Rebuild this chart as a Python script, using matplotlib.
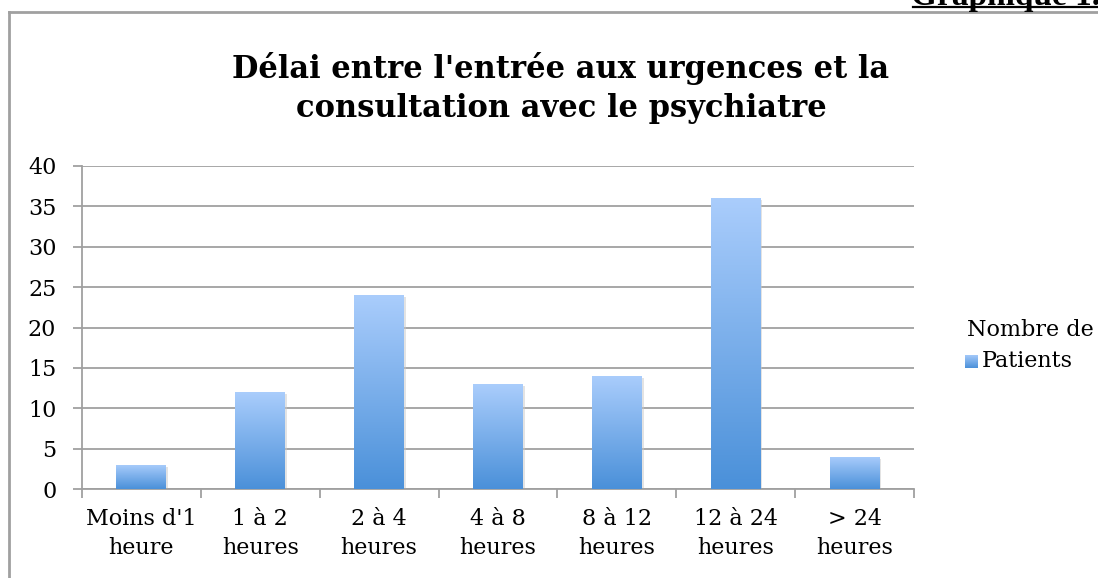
import matplotlib
matplotlib.use("Agg")
import matplotlib.pyplot as plt
import numpy as np
from matplotlib.patches import Rectangle
from matplotlib.colors import LinearSegmentedColormap
from matplotlib.lines import Line2D

categories = ["Moins d'1\nheure", "1 à 2\nheures", "2 à 4\nheures", "4 à 8\nheures",
              "8 à 12\nheures", "12 à 24\nheures", "> 24\nheures"]
patients = [3, 12, 24, 13, 14, 36, 4]
y_ticks = [0, 5, 10, 15, 20, 25, 30, 35, 40]

title = "Délai entre l'entrée aux urgences et la\nconsultation avec le psychiatre"
legend_title = "Nombre de"
legend_label = "Patients"

plt.rcParams['font.family'] = ['DejaVu Serif']
grey = '#a0a0a0'
grad = LinearSegmentedColormap.from_list('bars', ['#4a90d9', '#aacdfc'])
gradient = np.linspace(0, 1, 256).reshape(-1, 1)

fig = plt.figure(figsize=(10.98, 5.78), dpi=100)
W, H = 1098, 578

# outer frame of the chart (cut off on the right / bottom)
fig.add_artist(Line2D([9 / W, 9 / W], [-0.1, 1 - 12 / H], color=grey, lw=2, transform=fig.transFigure))
fig.add_artist(Line2D([9 / W, 1.1], [1 - 12 / H, 1 - 12 / H], color=grey, lw=2, transform=fig.transFigure))

# "Graphique 1." heading, mostly out of the picture
fig.text(1100 / W, 1 - 5 / H, "Graphique 1.", ha='right', va='baseline',
         fontsize=24, fontweight='bold', family='Liberation Serif')
fig.add_artist(Line2D([913 / W, 1.0], [1 - 7 / H, 1 - 7 / H], color='black', lw=1.6,
                      transform=fig.transFigure))

ax = fig.add_axes([82 / W, 1 - 489 / H, (914 - 82) / W, (489 - 166) / H])
x = np.arange(len(categories))
width = 0.42
bars = ax.bar(x, patients, width=width, color='none', zorder=3)
for b in bars:
    x0, y0, w, h = b.get_x(), b.get_y(), b.get_width(), b.get_height()
    # soft shadow
    ax.add_patch(Rectangle((x0 + 0.015, y0 - 0.25), w, h, color='#c8c8c8', alpha=0.5, zorder=2, lw=0))
    im = ax.imshow(gradient, cmap=grad, aspect='auto', extent=[x0, x0 + w, y0, y0 + h],
                   origin='lower', zorder=3)
    im.set_clip_path(b)

ax.set_xlim(-0.5, len(categories) - 0.5)
ax.set_ylim(0, 40)
ax.set_yticks(y_ticks)
ax.set_yticklabels([str(t) for t in y_ticks], fontsize=16)
ax.yaxis.grid(True, color=grey, lw=1.3)
ax.set_axisbelow(True)

ax.set_xticks(np.arange(len(categories) + 1) - 0.5)
ax.set_xticklabels([])
ax.set_xticks(x, minor=True)
ax.set_xticklabels(categories, minor=True, fontsize=16, linespacing=1.4)
ax.tick_params(axis='x', which='minor', length=0, pad=14)
ax.tick_params(axis='x', which='major', length=6.5, width=1.3, color=grey)
ax.tick_params(axis='y', length=6.5, width=1.3, color=grey, pad=12)

for s in ['top', 'right']:
    ax.spines[s].set_visible(False)
for s in ['left', 'bottom']:
    ax.spines[s].set_color(grey)
    ax.spines[s].set_linewidth(1.3)

fig.text(561 / W, 1 - 88 / H, title, ha='center', va='center', fontsize=22,
         fontweight='bold', linespacing=1.3)

# legend
fig.text(967 / W, 1 - 330 / H, legend_title, ha='left', va='center', fontsize=16)
lax = fig.add_axes([965 / W, 1 - 368 / H, 13 / W, 13 / H])
lax.imshow(gradient, cmap=grad, aspect='auto', origin='lower', extent=[0, 1, 0, 1])
lax.set_axis_off()
fig.text(982 / W, 1 - 361 / H, legend_label, ha='left', va='center', fontsize=16)

fig.savefig('out.png', dpi=100)
